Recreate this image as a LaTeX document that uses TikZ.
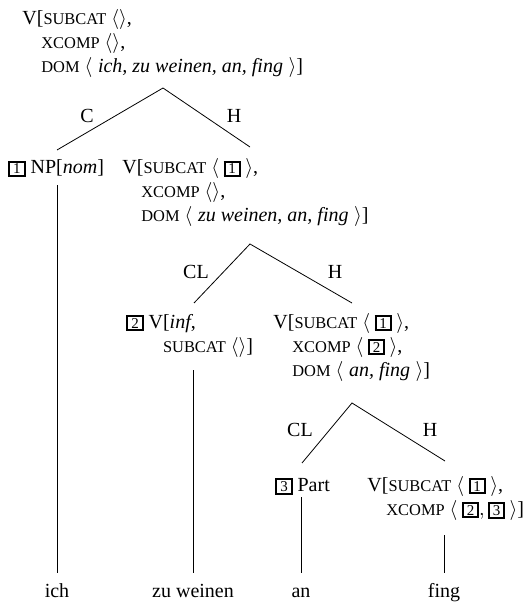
\documentclass[tikz,border=0pt]{standalone}
\usepackage{fontspec}
\setmainfont{Liberation Serif}
\usetikzlibrary{calc}

% small caps feature names, boxed tags, feature bundles
\newcommand{\fs}[1]{{\fontsize{8.2}{9}\selectfont #1}}
\newcommand{\tg}[1]{{\setlength{\fboxsep}{0.7pt}\setlength{\fboxrule}{1pt}\fbox{\makebox[5.2pt]{\fontsize{7.5}{8}\selectfont #1}}}}
\newcommand{\lst}[1]{$\left\langle\mskip4mu#1\mskip4mu\right\rangle$}
\newcommand{\av}[1]{\begin{tabular}[t]{@{}l@{}}#1\end{tabular}}
\newcommand{\ind}{\hspace*{9.5pt}}

\begin{document}
\begin{tikzpicture}[x=0.5pt,y=-0.5pt,
  every node/.style={inner sep=0pt},
  avm/.style={anchor=base west},
  word/.style={anchor=base,text height=12pt}]
  \useasboundingbox (0,0) rectangle (524,604);

  % categories
  \node[avm] (root) at (22,25) {\av{V[\fs{SUBCAT} $\langle\rangle$,\\
    \ind\fs{XCOMP} $\langle\rangle$,\\
    \ind\fs{DOM} $\langle$\;\textit{ich, zu weinen, an, fing}\;$\rangle$]}};
  \node[avm] (np) at (8,174) {\tg{1} NP[\textit{nom}]};
  \node[avm] (vb) at (122,174) {\av{V[\fs{SUBCAT} \lst{\tg{1}},\\
    \ind\fs{XCOMP} $\langle\rangle$,\\
    \ind\fs{DOM} $\langle$\;\textit{zu weinen, an, fing}\;$\rangle$]}};
  \node[avm] (vinf) at (126,328) {\av{\tg{2} V[\textit{inf},\\
    \phantom{\tg{2} V}\fs{SUBCAT} $\langle\rangle$]}};
  \node[avm] (vc) at (273,328) {\av{V[\fs{SUBCAT} \lst{\tg{1}},\\
    \ind\fs{XCOMP} \lst{\tg{2}},\\
    \ind\fs{DOM} $\langle$\;\textit{an, fing}\;$\rangle$]}};
  \node[avm] (part) at (275,491) {\tg{3} Part};
  \node[avm] (vd) at (367,491) {\av{V[\fs{SUBCAT} \lst{\tg{1}},\\
    \ind\fs{XCOMP} \lst{\tg{2}, \tg{3}}]}};

  % words
  \node[word] (ich) at (57,597) {ich};
  \node[word] (zuw) at (193,597) {zu weinen};
  \node[word] (an) at (301,597) {an};
  \node[word] (fing) at (444,597) {fing};

  % branchings
  \coordinate (t0) at (163,88);
  \coordinate (t0l) at (57,150);
  \coordinate (t0r) at (250,147);
  \coordinate (t1) at (250,244);
  \coordinate (t1l) at (194,303);
  \coordinate (t1r) at (352,303);
  \coordinate (t2) at (352,403);
  \coordinate (t2l) at (302,463);
  \coordinate (t2r) at (445,461);
  \draw (t0l) -- (t0) -- (t0r);
  \draw (t1l) -- (t1) -- (t1r);
  \draw (t2l) -- (t2) -- (t2r);
  \node (c0) at (87,116) {C};
  \node (h0) at (234,116) {H};
  \node (c1) at (196,272) {CL};
  \node (h1) at (335,272) {H};
  \node (c2) at (300,430) {CL};
  \node (h2) at (430,430) {H};

  % unary lines down to the words
  \draw[shorten >=3.5pt] (ich.north) -- (ich.north |- np.south);
  \draw[shorten >=5pt] (zuw.north) -- (zuw.north |- vinf.south);
  \draw[shorten >=1pt] (an.north) -- (an.north |- part.south);
  \draw[shorten >=6pt] (fing.north) -- (fing.north |- vd.south);
\end{tikzpicture}
\end{document}
